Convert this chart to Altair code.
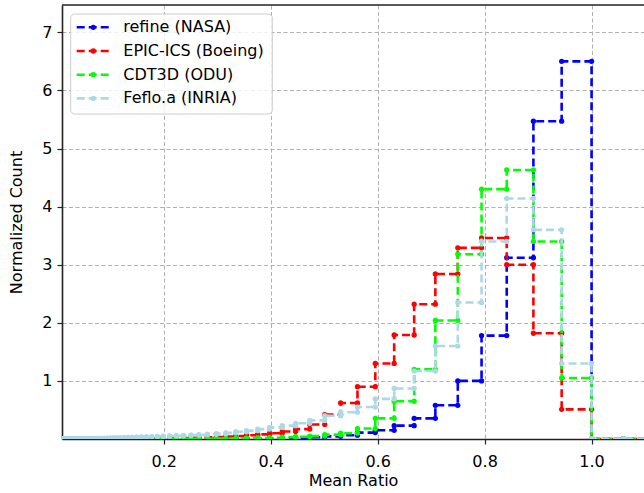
import altair as alt
import numpy as np
import pandas as pd

# Histogram bins: 80 log-spaced bins from 0.01 to 1.0, plus two empty bins past 1.0
bin_edges = np.logspace(-2, 0.05, 83)

# Normalized counts per bin, listed from the bin ending at 1.0 down towards 0.01
refine_nasa = [
    6.50, 5.47, 3.12, 1.78, 1.00, 0.58, 0.355, 0.23, 0.15, 0.11,
    0.065, 0.045, 0.030, 0.022, 0.016, 0.012, 0.009, 0.007, 0.005, 0.004,
    0.003, 0.002, 0.002, 0.001, 0.001, 0.001, 0.001, 0.0, 0.0, 0.0,
    0.0, 0.0, 0.0, 0.0, 0.0, 0.0, 0.0, 0.0, 0.0, 0.0,
    0.0, 0.0, 0.0, 0.0, 0.0, 0.0, 0.0, 0.0, 0.0, 0.0,
    0.0, 0.0, 0.0, 0.0, 0.0, 0.0, 0.0, 0.0, 0.0, 0.0,
    0.0, 0.0, 0.0, 0.0, 0.0, 0.0, 0.0, 0.0, 0.0, 0.0,
    0.0, 0.0, 0.0, 0.0, 0.0, 0.0, 0.0, 0.0, 0.0, 0.0,
]
epic_ics_boeing = [
    0.51, 1.82, 3.00, 3.46, 3.29, 2.84, 2.32, 1.79, 1.30, 0.90,
    0.62, 0.42, 0.25, 0.17, 0.13, 0.10, 0.08, 0.065, 0.052, 0.042,
    0.034, 0.028, 0.023, 0.019, 0.016, 0.013, 0.011, 0.009, 0.008, 0.007,
    0.006, 0.005, 0.004, 0.004, 0.003, 0.003, 0.002, 0.002, 0.002, 0.001,
    0.001, 0.001, 0.001, 0.001, 0.001, 0.0, 0.0, 0.0, 0.0, 0.0,
    0.0, 0.0, 0.0, 0.0, 0.0, 0.0, 0.0, 0.0, 0.0, 0.0,
    0.0, 0.0, 0.0, 0.0, 0.0, 0.0, 0.0, 0.0, 0.0, 0.0,
    0.0, 0.0, 0.0, 0.0, 0.0, 0.0, 0.0, 0.0, 0.0, 0.0,
]
cdt3d_odu = [
    1.05, 3.40, 4.63, 4.30, 3.18, 2.04, 1.20, 0.65, 0.355, 0.18,
    0.10, 0.075, 0.05, 0.04, 0.03, 0.022, 0.017, 0.013, 0.010, 0.008,
    0.006, 0.005, 0.004, 0.003, 0.002, 0.002, 0.001, 0.001, 0.001, 0.0,
    0.0, 0.0, 0.0, 0.0, 0.0, 0.0, 0.0, 0.0, 0.0, 0.0,
    0.0, 0.0, 0.0, 0.0, 0.0, 0.0, 0.0, 0.0, 0.0, 0.0,
    0.0, 0.0, 0.0, 0.0, 0.0, 0.0, 0.0, 0.0, 0.0, 0.0,
    0.0, 0.0, 0.0, 0.0, 0.0, 0.0, 0.0, 0.0, 0.0, 0.0,
    0.0, 0.0, 0.0, 0.0, 0.0, 0.0, 0.0, 0.0, 0.0, 0.0,
]
feflo_a_inria = [
    1.30, 3.60, 4.14, 3.40, 2.35, 1.60, 1.17, 0.87, 0.69, 0.55,
    0.46, 0.40, 0.32, 0.27, 0.23, 0.20, 0.17, 0.145, 0.125, 0.105,
    0.092, 0.082, 0.074, 0.067, 0.061, 0.056, 0.052, 0.048, 0.045, 0.041,
    0.038, 0.035, 0.032, 0.029, 0.026, 0.024, 0.021, 0.019, 0.017, 0.015,
    0.013, 0.012, 0.011, 0.010, 0.009, 0.008, 0.007, 0.006, 0.006, 0.005,
    0.005, 0.004, 0.004, 0.004, 0.003, 0.003, 0.003, 0.003, 0.002, 0.002,
    0.002, 0.002, 0.002, 0.002, 0.001, 0.001, 0.001, 0.001, 0.001, 0.001,
    0.001, 0.001, 0.001, 0.001, 0.001, 0.001, 0.0, 0.0, 0.0, 0.0,
]

series_names = ["refine (NASA)", "EPIC-ICS (Boeing)", "CDT3D (ODU)", "Feflo.a (INRIA)"]
series_values = [refine_nasa, epic_ics_boeing, cdt3d_odu, feflo_a_inria]
series_colors = ["#0000ff", "#ff0000", "#00ff00", "#add8e6"]

x_ticks = [0.2, 0.4, 0.6, 0.8, 1.0]
y_ticks = [1, 2, 3, 4, 5, 6, 7]

W, H = 582, 434
FONT = "DejaVu Sans"
AXIS_COLOR = "#222222"
DASH = [8, 4]
LINE_W = 2.6
DOT = 28


def step_frame(name, heights):
    """Each bin becomes two points (left edge, right edge) at the bin height."""
    h = list(reversed(heights)) + [0.0, 0.0]
    rows = []
    for i, v in enumerate(h):
        rows.append({"series": name, "x": float(bin_edges[i]), "y": v, "order": 2 * i})
        rows.append({"series": name, "x": float(bin_edges[i + 1]), "y": v, "order": 2 * i + 1})
    return pd.DataFrame(rows)


x_enc = alt.X(
    "x:Q",
    scale=alt.Scale(domain=[0.01, 1.098], nice=False, zero=False),
    axis=alt.Axis(
        values=x_ticks, format=".1f", title="Mean Ratio",
        labelFontSize=16, titleFontSize=16, titleFontWeight="normal",
        labelColor="black", titleColor="black", labelPadding=9, titlePadding=3,
        tickSize=5, tickColor=AXIS_COLOR, tickWidth=1.2,
        domainColor=AXIS_COLOR, domainWidth=1.6,
        grid=True, gridColor="#b0b0b0", gridDash=[4, 2.5], gridWidth=1,
    ),
)
y_enc = alt.Y(
    "y:Q",
    scale=alt.Scale(domain=[0, 7.47], nice=False, zero=False),
    axis=alt.Axis(
        values=y_ticks, format="d", title="Normalized Count",
        labelFontSize=16, titleFontSize=16, titleFontWeight="normal",
        labelColor="black", titleColor="black", labelPadding=5, titlePadding=17,
        tickSize=5, tickColor=AXIS_COLOR, tickWidth=1.2,
        domainColor=AXIS_COLOR, domainWidth=1.6,
        grid=True, gridColor="#b0b0b0", gridDash=[4, 2.5], gridWidth=1,
    ),
)

layers = []
for name, vals, col in zip(series_names, series_values, series_colors):
    df = step_frame(name, vals)
    base = alt.Chart(df).encode(x=x_enc, y=y_enc, order="order:Q")
    layers.append(base.mark_line(color=col, strokeWidth=LINE_W, strokeDash=DASH, clip=True))
    layers.append(base.mark_circle(color=col, size=DOT, opacity=1, clip=True))

one = pd.DataFrame({"k": [0]})

# top spine
layers.append(
    alt.Chart(one).mark_rule(color=AXIS_COLOR, strokeWidth=1.6).encode(
        x=alt.value(0), x2=alt.value(W), y=alt.value(0)
    )
)

# legend box in the upper-left corner
layers.append(
    alt.Chart(one).mark_rect(
        fill="white", fillOpacity=0.8, stroke="#cccccc", strokeWidth=1, cornerRadius=4
    ).encode(x=alt.value(8.7), x2=alt.value(210.3), y=alt.value(9), y2=alt.value(109))
)
legend_rows = [22.3, 46.0, 69.7, 93.4]
for name, col, yy in zip(series_names, series_colors, legend_rows):
    layers.append(
        alt.Chart(one).mark_rule(color=col, strokeWidth=LINE_W, strokeDash=DASH).encode(
            x=alt.value(14.7), x2=alt.value(48), y=alt.value(yy)
        )
    )
    layers.append(
        alt.Chart(one).mark_circle(color=col, size=DOT, opacity=1).encode(
            x=alt.value(31.3), y=alt.value(yy)
        )
    )
    layers.append(
        alt.Chart(one).mark_text(
            align="left", baseline="middle", fontSize=16, font=FONT, color="black"
        ).encode(x=alt.value(61.3), y=alt.value(yy), text=alt.value(name))
    )

chart = (
    alt.layer(*layers)
    .properties(
        width=W,
        height=H,
        autosize=alt.AutoSizeParams(type="none"),
        padding={"left": 62, "top": 5, "right": 0, "bottom": 54},
    )
    .configure(font=FONT)
    .configure_view(stroke=None)
    .configure_axis(labelFont=FONT, titleFont=FONT)
)

chart.save("out.html", embed_options={"renderer": "svg", "actions": False})
